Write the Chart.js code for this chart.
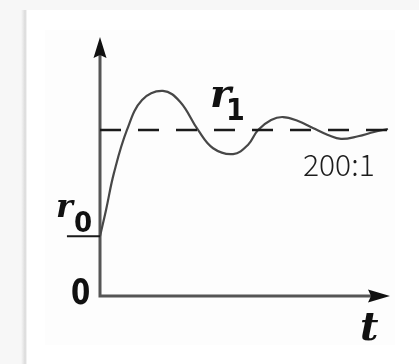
<!DOCTYPE html>
<html>
<head>
<meta charset="utf-8">
<script src="https://cdn.jsdelivr.net/npm/chart.js@4"></script>
<style>
  html, body { margin: 0; padding: 0; background: #fff; }
  #wrap { width: 419px; height: 364px; position: relative; }
  canvas { display: block; }
</style>
</head>
<body>
<div id="wrap"><canvas id="c" width="419" height="364"></canvas></div>
<script>
// Step response of a controlled variable: rises from r0, overshoots, settles at r1.
const timeSteps = [0, 0.21, 0.48, 0.93, 1.45, 2.17, 2.76, 3.38, 3.90, 4.59, 5.10, 5.45, 5.90, 6.31, 6.83, 7.34, 7.86, 8.31, 8.90, 9.45, 9.93];
const response  = [0.36, 0.52, 0.74, 1.00, 1.18, 1.235, 1.17, 1.00, 0.89, 0.855, 0.91, 1.00, 1.06, 1.078, 1.054, 1.012, 0.97, 0.946, 0.962, 0.988, 1.006];
const initialLevel = 0.36;   // r0
const finalLevel = 1.0;      // r1
const levelStart = -1.14;    // short r0 marker reaches left of the vertical axis
const tRange = [0, 10];
const yRange = [0, 1.554];
const ratioLabel = '200:1';

const SERIF = '"DejaVu Serif", "Liberation Serif", serif';
const DIGITS = '"DejaVu Sans Condensed", "DejaVu Sans", sans-serif';

const toPoints = (xs, ys) => xs.map((x, i) => ({ x, y: ys[i] }));

const frame = {
  id: 'frame',
  beforeDraw(chart) {
    const ctx = chart.ctx;
    ctx.save();
    ctx.fillStyle = '#f7f7f7';
    ctx.fillRect(0, 0, chart.width, chart.height);
    ctx.fillStyle = '#ffffff';
    ctx.fillRect(26, 10, chart.width - 26, chart.height - 10);
    const g = ctx.createLinearGradient(21, 0, 27, 0);
    g.addColorStop(0, 'rgba(215,215,215,0)');
    g.addColorStop(0.7, 'rgba(210,210,210,0.8)');
    g.addColorStop(1, 'rgba(235,235,235,0.4)');
    ctx.fillStyle = g;
    ctx.fillRect(21, 10, 6, chart.height - 10);
    ctx.fillStyle = '#fdfdfd';
    ctx.fillRect(45, 30, 350, 315);
    ctx.restore();
  }
};

const axesAndLabels = {
  id: 'axesAndLabels',
  beforeDatasetsDraw(chart) {
    const { ctx, chartArea, scales: { x, y } } = chart;
    const x0 = x.getPixelForValue(0);
    const y0 = y.getPixelForValue(0);
    ctx.save();
    ctx.strokeStyle = '#555';
    ctx.lineWidth = 3;
    ctx.beginPath();
    ctx.moveTo(x0, y0 + 1.5);
    ctx.lineTo(x0, chartArea.top + 16);
    ctx.moveTo(x0 - 1.5, y0);
    ctx.lineTo(chartArea.right - 18, y0);
    ctx.stroke();
    ctx.fillStyle = '#111';
    // vertical arrow head
    ctx.beginPath();
    ctx.moveTo(x0, chartArea.top - 1);
    ctx.lineTo(x0 + 6.5, chartArea.top + 20);
    ctx.lineTo(x0, chartArea.top + 17);
    ctx.lineTo(x0 - 6.5, chartArea.top + 20);
    ctx.closePath();
    ctx.fill();
    // horizontal arrow head
    const xr = chartArea.right;
    ctx.beginPath();
    ctx.moveTo(xr, y0);
    ctx.lineTo(xr - 22, y0 - 6.5);
    ctx.lineTo(xr - 19, y0);
    ctx.lineTo(xr - 22, y0 + 6.5);
    ctx.closePath();
    ctx.fill();
    ctx.restore();
  },
  afterDatasetsDraw(chart) {
    const { ctx, scales: { x, y } } = chart;
    const x0 = x.getPixelForValue(0);
    const y0 = y.getPixelForValue(0);
    const yr0 = y.getPixelForValue(initialLevel);
    const yr1 = y.getPixelForValue(finalLevel);
    ctx.save();
    ctx.fillStyle = '#111';
    ctx.textBaseline = 'alphabetic';
    ctx.textAlign = 'left';
    // r0
    ctx.font = 'italic bold 32px ' + SERIF;
    ctx.fillText('r', x0 - 44, yr0 - 19);
    ctx.font = 'bold 29px ' + DIGITS;
    ctx.fillText('0', x0 - 26, yr0 - 4);
    // origin 0, slightly narrowed
    ctx.save();
    ctx.translate(x0 - 29, y0 + 8);
    ctx.scale(0.88, 1);
    ctx.font = 'bold 35px ' + DIGITS;
    ctx.fillText('0', 0, 0);
    ctx.restore();
    // r1
    ctx.font = 'italic bold 40px ' + SERIF;
    ctx.fillText('r', x0 + 110, yr1 - 23);
    ctx.font = 'bold 30px ' + DIGITS;
    ctx.fillText('1', x0 + 126, yr1 - 10);
    // t
    ctx.font = 'italic bold 40px ' + SERIF;
    ctx.fillText('t', x.getPixelForValue(tRange[1]) - 30, y0 + 44);
    // ratio
    ctx.fillStyle = '#1c1c1c';
    ctx.font = '300 30px "Noto Sans CJK SC"';
    ctx.fillText(ratioLabel, 303, 176);
    ctx.restore();
  }
};

new Chart(document.getElementById('c'), {
  type: 'scatter',
  data: {
    datasets: [
      {
        data: [{ x: tRange[0], y: finalLevel }, { x: tRange[1], y: finalLevel }],
        showLine: true,
        borderColor: '#1a1a1a',
        borderWidth: 2.5,
        borderDash: [21, 17],
        pointRadius: 0
      },
      {
        data: [{ x: levelStart, y: initialLevel }, { x: 0, y: initialLevel }],
        showLine: true,
        borderColor: '#1a1a1a',
        borderWidth: 2.2,
        pointRadius: 0,
        clip: false
      },
      {
        data: toPoints(timeSteps, response),
        showLine: true,
        borderColor: '#474747',
        borderWidth: 2.2,
        pointRadius: 0,
        tension: 0.4
      }
    ]
  },
  options: {
    responsive: false,
    animation: false,
    events: [],
    layout: { padding: { left: 100, right: 29, top: 38, bottom: 68 } },
    plugins: { legend: { display: false }, tooltip: { enabled: false } },
    scales: {
      x: { type: 'linear', min: tRange[0], max: tRange[1], display: false },
      y: { type: 'linear', min: yRange[0], max: yRange[1], display: false }
    }
  },
  plugins: [frame, axesAndLabels]
});
</script>
</body>
</html>
